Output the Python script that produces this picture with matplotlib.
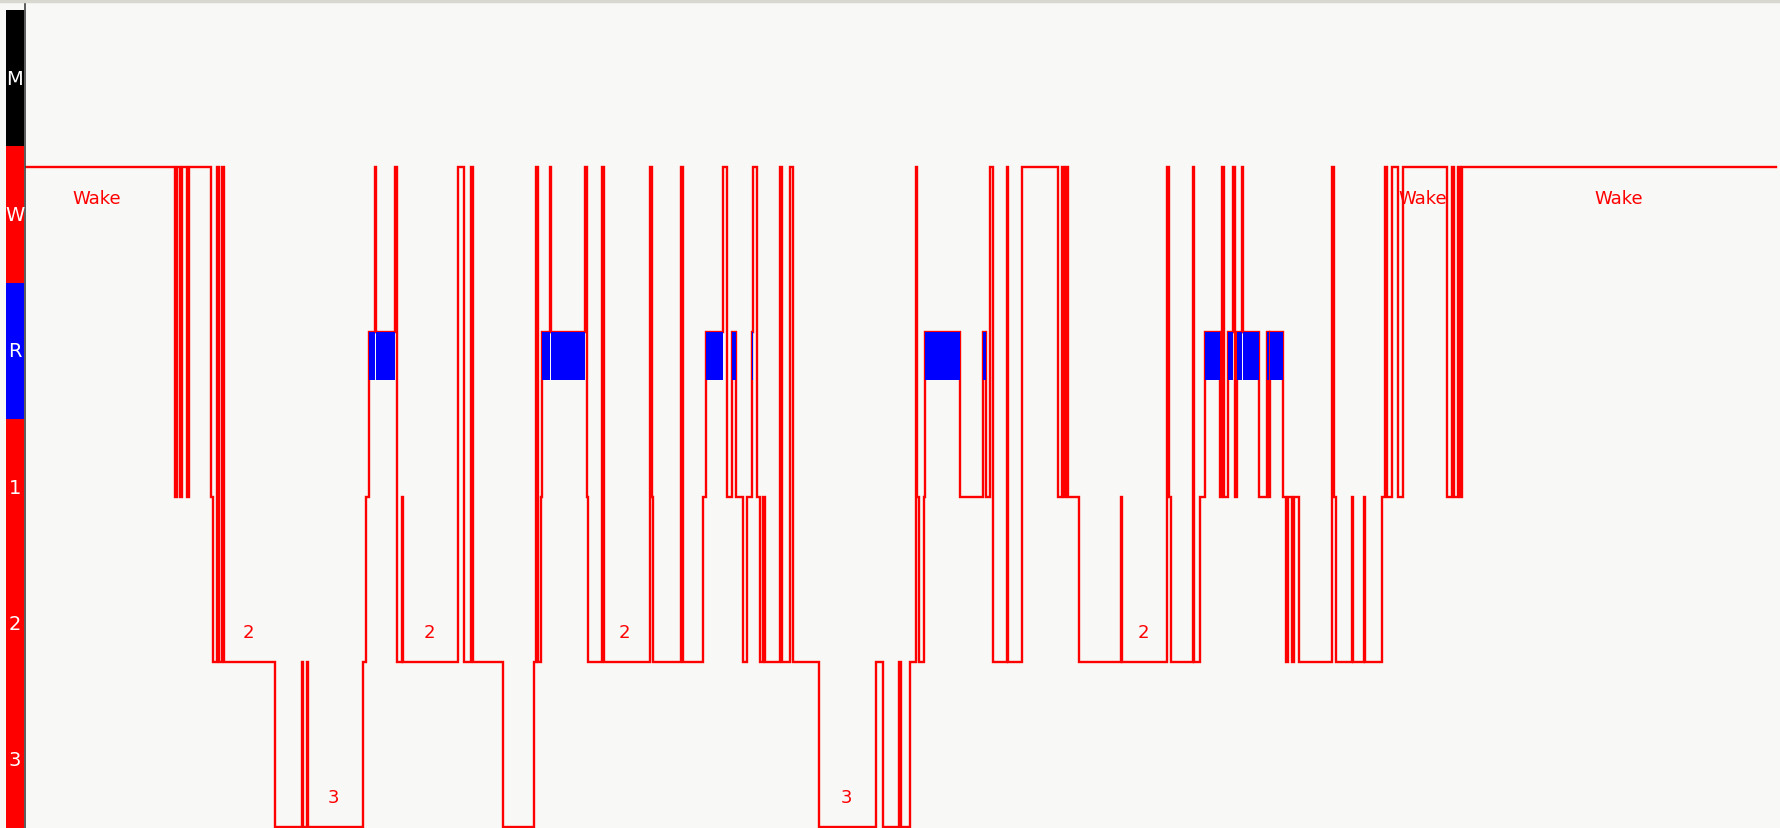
import matplotlib
matplotlib.use("Agg")
import matplotlib.pyplot as plt
from matplotlib.lines import Line2D

# ---- data (30 s epochs) ----
stage_names = ["M", "W", "R", "1", "2", "3"]
bar_colors = ["#000000", "#ff0000", "#0000ff", "#ff0000", "#ff0000", "#ff0000"]

epoch_starts = [0, 75, 76, 77.5, 78.5, 81, 82, 93, 94, 96, 97, 98.5, 99.5, 125,
                138.5, 139, 141, 141.5, 169, 170.5, 172, 175, 175.5, 185, 186,
                188.5, 189, 216.5, 219.5, 223, 224, 239, 254.5, 255.5, 256.5,
                258, 258.5, 262.5, 263, 280, 281, 281.5, 288.5, 289.5, 312.5,
                313.5, 314, 328, 329, 339, 340.5, 349, 351, 353.5, 355.5, 359,
                361, 363.5, 364, 366, 367.5, 369, 370, 377.5, 378.5, 382.5, 384,
                397, 425.5, 429, 437, 438, 442.5, 445.5, 446, 447, 449.5, 450,
                467.5, 479, 480.5, 482.5, 484, 491, 491.5, 498.5, 516.5, 518.5,
                519.5, 520.5, 521.5, 527, 548, 548.5, 571, 572, 573, 584, 584.5,
                587.5, 590, 597.5, 598.5, 599.5, 601.5, 604, 605, 606, 608.5,
                609, 617, 621, 622, 622.5, 629, 630.5, 631.5, 633.5, 634.5, 637,
                653.5, 654.5, 655.5, 663.5, 664, 669.5, 670, 678.5, 680, 681,
                683.5, 686.5, 689, 711, 713.5, 714.5, 716.5, 717.5, 718.5]
epoch_stages = ["W", "1", "W", "1", "W", "1", "W", "1", "2", "W", "2", "W", "2", "3",
                "2", "3", "2", "3", "2", "1", "R", "W", "R", "W", "2",
                "1", "2", "W", "2", "W", "2", "3", "2", "W", "2",
                "1", "R", "W", "R", "W", "1", "2", "W", "2", "W",
                "1", "2", "W", "2", "1", "R", "W", "1", "R", "1", "2",
                "1", "R", "W", "1", "2", "1", "2", "W", "2", "W", "2",
                "3", "2", "3", "2", "3", "2", "W", "1", "2", "1", "R",
                "1", "R", "1", "W", "2", "W", "2", "W", "1", "W",
                "1", "W", "1", "2", "1", "2", "W", "1", "2", "W", "2",
                "1", "R", "1", "W", "1", "R", "W", "1", "R", "W",
                "R", "1", "R", "1", "R", "1", "2", "1", "2", "1", "2",
                "W", "1", "2", "1", "2", "1", "2", "1", "W", "1",
                "W", "1", "W", "1", "W", "1", "W", "1", "W"]
record_end = 875.5

label_texts = ["Wake", "Wake", "Wake", "2", "2", "2", "2", "3", "3"]
label_epochs = [36, 699, 797, 111.5, 202, 299.5, 559, 154, 410.5]
label_levels = [1.19, 1.19, 1.19, 3.82, 3.82, 3.82, 3.82, 4.82, 4.82]

# ---- figure ----
W, H = 1781, 829
bg = "#f8f8f6"
fig = plt.figure(figsize=(W / 100, H / 100), dpi=100, facecolor=bg)
narrow = ["Liberation Sans Narrow", "DejaVu Sans"]

ax = fig.add_axes([25 / W, 0, (W - 25) / W, 1])
ax.set_facecolor(bg)
level = {s: i for i, s in enumerate(stage_names)}
ys = [level[s] for s in epoch_stages]
xs = list(epoch_starts) + [record_end]
ys_step = ys + [ys[-1]]
ax.step(xs, ys_step, where="post", color="#ff0000", lw=1.7, zorder=2,
        solid_joinstyle="miter")

# REM blocks
for i, s in enumerate(epoch_stages):
    if s == "R":
        start = epoch_starts[i]
        end = epoch_starts[i + 1] if i + 1 < len(epoch_starts) else record_end
        ax.bar(start, 0.29, width=end - start, bottom=level["R"], align="edge",
               color="#0000ff", linewidth=0, zorder=3)

for t, x, y in zip(label_texts, label_epochs, label_levels):
    ax.text(x, y, t, color="#ff0000", fontsize=13, family=narrow,
            ha="center", va="center", zorder=4)

ax.set_xlim(0, (W - 25) / 2)
ax.set_ylim(5.006, -0.018)
ax.set_xticks([])
ax.set_yticks([])
for sp in ["top", "right", "bottom"]:
    ax.spines[sp].set_visible(False)
ax.spines["left"].set_color("#404040")
ax.spines["left"].set_linewidth(1.2)

# left stage bar
axb = fig.add_axes([6 / W, 0, 18 / W, (H - 11) / H])
for i, (name, c) in enumerate(zip(stage_names, bar_colors)):
    axb.bar(0, 1, width=1, bottom=i, color=c, linewidth=0, align="edge")
    axb.text(0.5, i + 0.5, name, color="white", fontsize=14, family=narrow,
             ha="center", va="center")
axb.set_xlim(0, 1)
axb.set_ylim(len(stage_names), 0)
axb.axis("off")

fig.add_artist(Line2D([0, 1], [1 - 1.5 / H, 1 - 1.5 / H], color="#d8d8d0", lw=2.5,
                      transform=fig.transFigure))

fig.savefig("out.png", dpi=100, facecolor=bg)
